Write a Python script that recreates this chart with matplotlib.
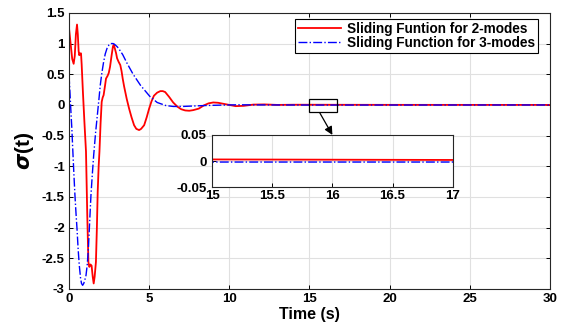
import matplotlib
matplotlib.use("Agg")
import matplotlib.pyplot as plt

# ---------------- data ----------------
t_two = [0.0, 0.1, 0.2, 0.29, 0.36, 0.43, 0.5, 0.55, 0.6, 0.64, 0.7, 0.75, 0.79, 0.87,
         0.96, 1.06, 1.14, 1.21, 1.27, 1.34, 1.41, 1.48, 1.54, 1.6, 1.68, 1.74, 1.79,
         1.85, 1.9, 1.97, 2.04, 2.1, 2.16, 2.24, 2.31, 2.4, 2.48, 2.56, 2.66, 2.74,
         2.79, 2.86, 2.94, 3.0, 3.1, 3.2, 3.28, 3.35, 3.44, 3.6, 3.75, 3.9, 4.06, 4.2,
         4.375, 4.5, 4.69, 4.85, 5.0, 5.15, 5.3, 5.5, 5.7, 5.85, 6.0, 6.25, 6.5, 6.77,
         7.0, 7.25, 7.5, 7.75, 8.1, 8.4, 8.7, 9.0, 9.3, 9.8, 10.4, 10.9, 11.5, 12.2,
         13.0, 14.0, 15.0, 17.0, 20.0, 30.0]
sigma_two = [1.25, 1.0, 0.75, 0.67, 0.8, 1.15, 1.31, 1.15, 0.88, 0.81, 0.84, 0.84, 0.66, 0.2,
             -0.27, -0.76, -1.8, -2.56, -2.64, -2.6, -2.62, -2.8, -2.91, -2.8, -2.56, -2.0, -1.42,
             -1.0, -0.76, -0.3, 0.05, 0.12, 0.16, 0.3, 0.43, 0.47, 0.52, 0.62, 0.81, 0.95,
             0.98, 0.92, 0.84, 0.76, 0.7, 0.65, 0.55, 0.43, 0.3, 0.1, -0.06, -0.2, -0.33, -0.39,
             -0.41, -0.39, -0.33, -0.2, -0.06, 0.06, 0.15, 0.2, 0.225, 0.225, 0.21, 0.13, 0.04, -0.03,
             -0.07, -0.09, -0.095, -0.085, -0.06, -0.01, 0.025, 0.04, 0.035, 0.01, -0.02, -0.015, 0.005, 0.008,
             0.0, 0.003, 0.003, 0.002, 0.001, 0.0]

t_three = [0.0, 0.06, 0.12, 0.18, 0.23, 0.3, 0.37, 0.44, 0.5, 0.57, 0.64, 0.72, 0.78, 0.85,
           0.92, 1.0, 1.06, 1.14, 1.21, 1.29, 1.37, 1.45, 1.54, 1.66, 1.79, 1.87, 1.95, 2.05,
           2.16, 2.26, 2.37, 2.5, 2.62, 2.75, 2.83, 3.0, 3.1, 3.35, 3.62, 4.0, 4.46, 5.04,
           5.5, 6.04, 6.5, 7.1, 8.0, 8.5, 9.5, 10.5, 12.0, 15.0, 17.0, 30.0]
sigma_three = [0.49, 0.2, -0.11, -0.4, -0.7, -1.1, -1.47, -1.78, -2.02, -2.35, -2.61, -2.82, -2.91, -2.94,
               -2.91, -2.84, -2.78, -2.6, -2.34, -1.9, -1.47, -1.15, -0.82, -0.45, -0.11, 0.1, 0.32, 0.52,
               0.7, 0.83, 0.92, 0.98, 1.0, 1.0, 0.99, 0.95, 0.92, 0.82, 0.68, 0.5, 0.32, 0.14,
               0.04, -0.01, -0.025, -0.025, -0.015, -0.01, -0.003, 0.002, 0.0, -0.002, -0.002, -0.001]

labels = ["Sliding Funtion for 2-modes", "Sliding Function for 3-modes"]
x_ticks = [0, 5, 10, 15, 20, 25, 30]
y_ticks = [-3, -2.5, -2, -1.5, -1, -0.5, 0, 0.5, 1, 1.5]
inset_x_ticks = [15, 15.5, 16, 16.5, 17]
inset_y_ticks = [-0.05, 0, 0.05]

# ---------------- style ----------------
plt.rcParams['font.family'] = ['Liberation Sans', 'DejaVu Sans']
plt.rcParams['font.weight'] = 'bold'
plt.rcParams['axes.unicode_minus'] = False
plt.rcParams['mathtext.fontset'] = 'dejavusans'

fig = plt.figure(figsize=(5.61, 3.22), dpi=100)
ax = fig.add_axes([0.123, 0.1025, 0.857, 0.8575])

red = (1, 0, 0)
blue = (0, 0, 1)

def style_axes(a, fs):
    a.grid(True, color=(0.88, 0.88, 0.88), linewidth=0.8)
    a.set_axisbelow(True)
    a.tick_params(direction='in', top=True, right=True, length=3, width=0.7,
                  labelsize=fs, pad=3, colors='black')
    for lab in a.get_xticklabels() + a.get_yticklabels():
        lab.set_fontweight('bold')
    for s in a.spines.values():
        s.set_linewidth(0.8)
        s.set_color((0.15, 0.15, 0.15))

ax.plot(t_two, sigma_two, color=red, lw=1.3, label=labels[0])
ax.plot(t_three, sigma_three, color=blue, lw=1.0, linestyle='-.', label=labels[1])
ax.set_xlim(0, 30)
ax.set_ylim(-3, 1.5)
ax.set_xticks(x_ticks)
ax.set_yticks(y_ticks)
ax.set_xticklabels([f"{v:g}" for v in x_ticks])
ax.set_yticklabels([f"{v:g}" for v in y_ticks])
style_axes(ax, 9.5)

ax.set_xlabel("Time (s)", fontsize=11.5, fontweight='bold', labelpad=1.5)
ax.set_ylabel(r"$\sigma$(t)", fontsize=15, fontweight='bold', labelpad=4)

leg = ax.legend(loc='upper right', bbox_to_anchor=(0.975, 0.978), fontsize=9.8,
                frameon=True, fancybox=False, edgecolor='black', framealpha=1,
                handlelength=3.2, labelspacing=0.02, borderpad=0.22,
                handletextpad=0.4, borderaxespad=0.0)
leg.get_frame().set_linewidth(0.8)
for txt in leg.get_texts():
    txt.set_fontweight('bold')

# zoom rectangle
ax.add_patch(plt.Rectangle((15, -0.12), 1.75, 0.22, fill=False, edgecolor='black', lw=0.9, zorder=5))

# inset
ins = fig.add_axes([0.378, 0.419, 0.429, 0.162])
ins.plot(t_two, sigma_two, color=red, lw=1.3)
ins.plot(t_three, sigma_three, color=blue, lw=1.0, linestyle='-.')
ins.set_xlim(15, 17)
ins.set_ylim(-0.05, 0.05)
ins.set_xticks(inset_x_ticks)
ins.set_yticks(inset_y_ticks)
ins.set_xticklabels([f"{v:g}" for v in inset_x_ticks])
ins.set_yticklabels([f"{v:g}" for v in inset_y_ticks])
style_axes(ins, 9.5)
ins.tick_params(top=False, right=False)
ins.tick_params(axis='x', pad=2)
ins.tick_params(axis='y', pad=4)

# arrow from rectangle to inset
ax.annotate("", xy=(16.0, 0.05), xycoords=ins.transData,
            xytext=(15.65, -0.13), textcoords=ax.transData,
            arrowprops=dict(arrowstyle='-|>', color='black', lw=0.9,
                            mutation_scale=12, shrinkA=0, shrinkB=0),
            zorder=6)

fig.savefig("out.png", dpi=100)
